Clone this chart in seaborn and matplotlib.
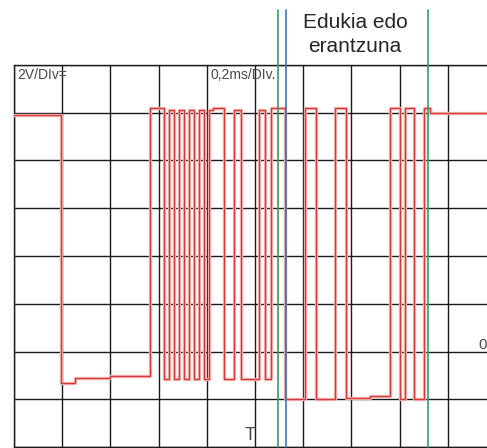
import matplotlib
matplotlib.use("Agg")
import matplotlib.pyplot as plt
import seaborn as sns

# Oscilloscope trace in divisions (0.2 ms/div, 2 V/div)
time_div = [0.00, 0.97, 1.27, 1.99, 2.82, 3.11, 3.22, 3.32, 3.42, 3.53,
            3.63, 3.73, 3.84, 3.94, 4.05, 4.13, 4.36, 4.56, 4.71, 5.08,
            5.21, 5.33, 5.62, 6.04, 6.27, 6.66, 6.89, 7.39, 7.80, 8.01,
            8.11, 8.30, 8.51, 8.63, 10.0]
level_div = [6.95, 1.34, 1.45, 1.49, 7.10, 1.42, 7.06, 1.42, 7.06, 1.42,
             7.06, 1.42, 7.06, 1.42, 7.06, 7.10, 1.42, 7.06, 1.42, 7.06,
             1.42, 7.10, 1.00, 7.10, 1.00, 7.10, 1.03, 1.07, 7.10, 1.00,
             7.10, 1.00, 7.10, 7.00, 7.00]

# Cursor markers (green, blue, green)
marker_pos = [5.48, 5.64, 8.59]
marker_colors = ["#3a9a6a", "#3a7ab8", "#3a9a6a"]

sns.set_style("white")
plt.rcParams["font.family"] = ["Liberation Sans", "DejaVu Sans"]

fig = plt.figure(figsize=(4.87, 4.48), dpi=100)
ax = fig.add_axes([14 / 487, 1 / 448, 482 / 487, 382 / 448])

# Trace: pale wide stroke under a thin darker one
sns.lineplot(x=time_div, y=level_div, ax=ax, color="#f3b4b4", lw=2.4,
             drawstyle="steps-post", sort=False, estimator=None, zorder=3)
sns.lineplot(x=time_div, y=level_div, ax=ax, color="#d83a3a", lw=0.9,
             drawstyle="steps-post", sort=False, estimator=None, zorder=4)

ax.set_xlim(0, 10)
ax.set_ylim(0, 8)
ax.set_xticks(range(11))
ax.set_yticks(range(9))
ax.grid(True, color="#1a1a1a", lw=1.0)
ax.set_axisbelow(True)
ax.tick_params(length=0, labelbottom=False, labelleft=False)
for s in ax.spines.values():
    s.set_color("#1a1a1a")
    s.set_linewidth(1.0)
ax.set_xlabel("")
ax.set_ylabel("")

for pos, c in zip(marker_pos, marker_colors):
    ax.axvline(pos, ymin=0, ymax=1.144, color=c, lw=1.2, clip_on=False, zorder=5)

ax.text(0.06, 7.94, "2V/DIv=", fontsize=10, color="#4a4a4a", va="top", ha="left")
ax.text(4.07, 7.94, "0,2ms/DIv.", fontsize=10, color="#4a4a4a", va="top", ha="left")
ax.text(4.9, 0.25, "T", fontsize=13, color="#4a4a4a", va="center", ha="center")
ax.text(9.64, 2.14, "0", fontsize=11, color="#4a4a4a", va="center", ha="left")

fig.text(355 / 487, 1 - 22 / 448, "Edukia edo", fontsize=15, ha="center", va="center")
fig.text(355 / 487, 1 - 46 / 448, "erantzuna", fontsize=15, ha="center", va="center")

fig.savefig("out.png", dpi=100)
